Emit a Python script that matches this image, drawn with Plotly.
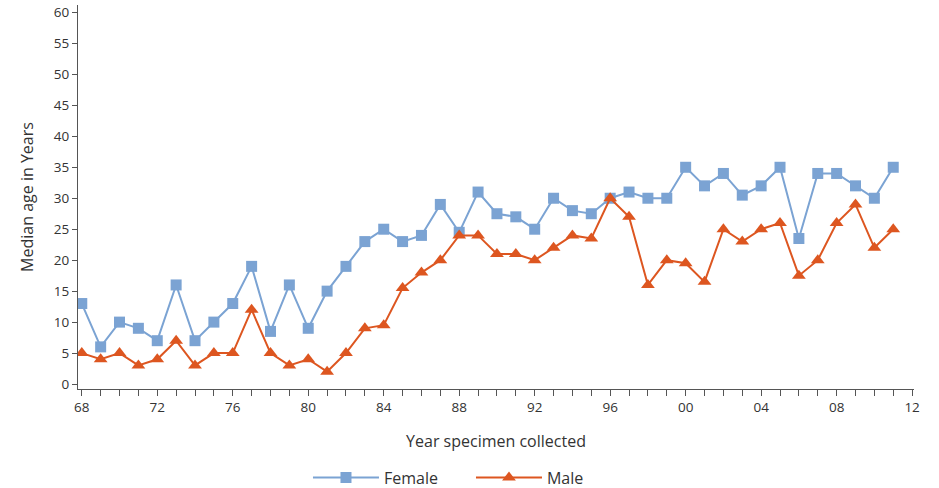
import plotly.graph_objects as go

years = list(range(1968, 2012))
female = [13, 6, 10, 9, 7, 16, 7, 10, 13, 19, 8.5, 16, 9, 15, 19, 23, 25, 23, 24, 29,
          24.5, 31, 27.5, 27, 25, 30, 28, 27.5, 30, 31, 30, 30, 35, 32, 34, 30.5, 32, 35,
          23.5, 34, 34, 32, 30, 35]
male = [5, 4, 5, 3, 4, 7, 3, 5, 5, 12, 5, 3, 4, 2, 5, 9, 9.5, 15.5, 18, 20,
        24, 24, 21, 21, 20, 22, 24, 23.5, 30, 27, 16, 20, 19.5, 16.5, 25, 23, 25, 26,
        17.5, 20, 26, 29, 22, 25]
x_tickvals = list(range(1968, 2013, 4))
x_ticktext = ["68", "72", "76", "80", "84", "88", "92", "96", "00", "04", "08", "12"]
y_tickvals = list(range(0, 61, 5))

FEMALE_COLOR = "#7BA3D3"
MALE_COLOR = "#DD5620"
FONT = "Open Sans, Noto Sans, DejaVu Sans, sans-serif"
TXT = "#333333"
AX = "#555555"

fig = go.Figure()
fig.add_trace(go.Scatter(
    x=years, y=female, name="Female", mode="lines+markers",
    line=dict(color=FEMALE_COLOR, width=2),
    marker=dict(symbol="square", size=11, color=FEMALE_COLOR),
))
fig.add_trace(go.Scatter(
    x=years, y=male, name="Male", mode="lines+markers",
    line=dict(color=MALE_COLOR, width=2),
    marker=dict(symbol="triangle-up", size=12, color=MALE_COLOR),
))

fig.update_layout(
    width=939, height=488,
    margin=dict(l=78, r=25, t=5, b=99, autoexpand=False),
    paper_bgcolor="white", plot_bgcolor="white",
    font=dict(family=FONT, color=TXT, size=13),
    showlegend=True,
    legend=dict(orientation="h", x=0.2751, xanchor="left", y=-0.231, yanchor="middle",
                font=dict(size=16, color=TXT), itemwidth=66,
                entrywidth=82, entrywidthmode="pixels"),
    xaxis=dict(
        range=[1967.8, 2012.1], automargin=False,
        tickmode="array", tickvals=x_tickvals, ticktext=x_ticktext,
        ticks="outside", ticklen=6, tickcolor=AX, tickwidth=1,
        minor=dict(tickmode="linear", tick0=1968, dtick=1, ticks="outside",
                   ticklen=6, tickcolor=AX, tickwidth=1, showgrid=False),
        showline=True, linecolor=AX, linewidth=1,
        showgrid=False, zeroline=False,
        tickfont=dict(size=13.5, color=TXT),
        title=dict(text="Year specimen collected", font=dict(size=16, color=TXT), standoff=20),
    ),
    yaxis=dict(
        range=[-0.8, 61.2], automargin=False,
        tickmode="array", tickvals=y_tickvals,
        ticks="outside", ticklen=5, tickcolor=AX, tickwidth=1,
        showline=True, linecolor=AX, linewidth=1,
        showgrid=False, zeroline=False,
        tickfont=dict(size=13.5, color=TXT),
        title=dict(text="Median age in Years", font=dict(size=16, color=TXT), standoff=16),
    ),
)

fig.write_html(
    "out.html",
    config={"displayModeBar": False},
    post_script="document.body.style.margin='0';document.body.style.overflow='hidden';",
)
